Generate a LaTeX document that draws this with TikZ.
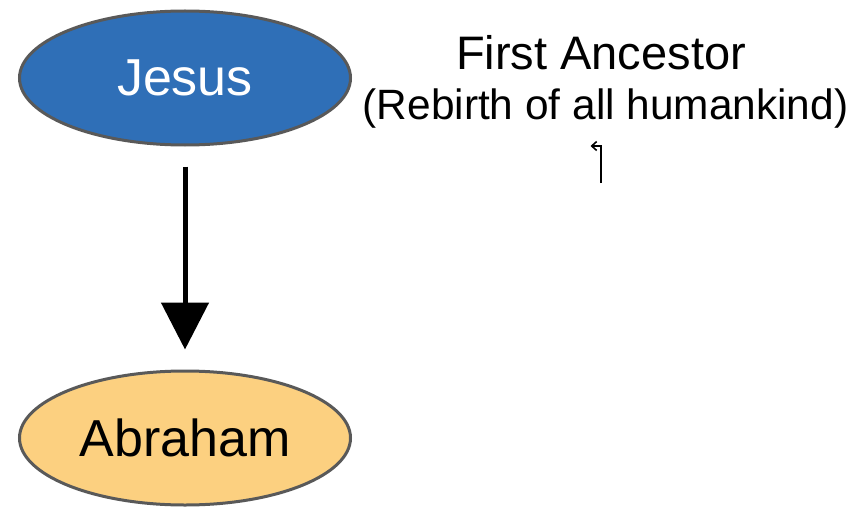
\documentclass[tikz,border=0pt]{standalone}
\usepackage{fontspec}
\setmainfont{Liberation Sans}
\usetikzlibrary{arrows.meta, shapes.geometric}

\definecolor{jesusblue}{RGB}{47,111,183}
\definecolor{abrahamorange}{RGB}{252,208,128}
\definecolor{rimgray}{RGB}{89,89,89}

\begin{document}
\begin{tikzpicture}[
    x=1pt, y=1pt,
    every node/.style={align=center},
    person/.style={ellipse, draw=rimgray, line width=3pt, inner sep=0pt,
                   minimum width=331pt, minimum height=134pt},
    >=Latex
]
\useasboundingbox (0,0) rectangle (866,-508);

\node[person, fill=jesusblue, text=white, font=\fontsize{52}{60}\selectfont] (jesus) at (185,-78) {Jesus};
\node[person, fill=abrahamorange, font=\fontsize{52}{60}\selectfont] (abraham) at (185,-438) {Abraham};

\node[anchor=base, inner sep=0pt, font=\fontsize{47}{54}\selectfont] (title) at (601,-70) {First Ancestor};
\node[anchor=base, inner sep=0pt, font=\fontsize{42.4}{48}\selectfont] (subtitle) at (605.5,-119) {(Rebirth of all humankind)};

\draw[-{Triangle[width=47pt, length=47pt]}, line width=5pt, shorten <=20pt, shorten >=20pt] (jesus) -- (abraham);

% small hook arrow under the subtitle
\coordinate (hooktail) at (600.7,-183);
\coordinate (hooktip) at (590.5,-146);
\draw[-{Straight Barb[length=5pt, width=9pt]}, line width=1.6pt] (hooktail) |- (hooktip);
\end{tikzpicture}
\end{document}
